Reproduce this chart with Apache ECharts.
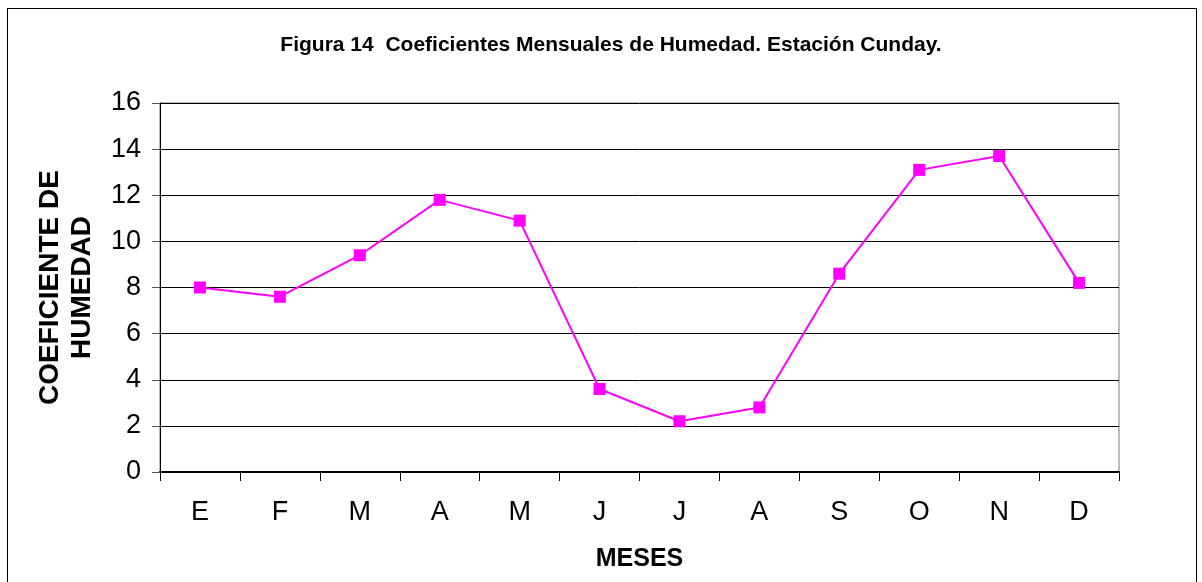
<!doctype html>
<html>
<head>
<meta charset="utf-8">
<title>Figura 14</title>
<script src="https://cdn.jsdelivr.net/npm/echarts@6/dist/echarts.min.js"></script>
<style>
  html, body { margin: 0; padding: 0; background: #fff; }
  #main { width: 1202px; height: 582px; }
  #frame { position: absolute; left: 7px; top: 8px; width: 1188px; height: 590px; border: 1px solid #000; pointer-events: none; }
</style>
</head>
<body>
<div id="frame"></div>
<div id="main"></div>
<script>
var meses = ['E', 'F', 'M', 'A', 'M', 'J', 'J', 'A', 'S', 'O', 'N', 'D'];
var coeficientes = [8.0, 7.6, 9.4, 11.8, 10.9, 3.6, 2.2, 2.8, 8.6, 13.1, 13.7, 8.2];

var chart = echarts.init(document.getElementById('main'));
var font = 'Liberation Sans, Arial, sans-serif';

chart.setOption({
  animation: false,
  title: {
    text: 'Figura 14  Coeficientes Mensuales de Humedad. Estación Cunday.',
    left: 606, top: 30, textAlign: 'center',
    textStyle: { fontFamily: font, fontSize: 21, fontWeight: 'bold', color: '#000' }
  },
  grid: { left: 160, right: 83, top: 103, bottom: 110, show: true, borderColor: '#777', borderWidth: 1, backgroundColor: '#fff' },
  xAxis: {
    type: 'category',
    data: meses,
    boundaryGap: true,
    name: 'MESES', nameLocation: 'middle', nameGap: 75,
    nameTextStyle: { fontFamily: font, fontSize: 25, fontWeight: 'bold', color: '#000' },
    axisLine: { lineStyle: { color: '#000', width: 2 } },
    axisTick: { show: true, length: 9, lineStyle: { color: '#000' } },
    axisLabel: { fontFamily: font, fontSize: 27, color: '#000', margin: 27 }
  },
  yAxis: {
    type: 'value', min: 0, max: 16, interval: 2,
    name: 'COEFICIENTE DE\nHUMEDAD', nameLocation: 'middle', nameGap: 62, nameRotate: 90,
    nameTextStyle: { fontFamily: font, fontSize: 28, fontWeight: 'bold', color: '#000', lineHeight: 32 },
    axisLine: { show: true, lineStyle: { color: '#000', width: 1 } },
    axisTick: { show: true, length: 8, lineStyle: { color: '#555' } },
    axisLabel: { fontFamily: font, fontSize: 27, color: '#000', margin: 19 },
    splitLine: { lineStyle: { color: '#000', width: 1 } }
  },
  series: [{
    type: 'line',
    data: coeficientes,
    symbol: 'rect', symbolSize: 12,
    lineStyle: { color: '#ff00ff', width: 2 },
    itemStyle: { color: '#ff00ff' }
  }]
});
</script>
</body>
</html>
